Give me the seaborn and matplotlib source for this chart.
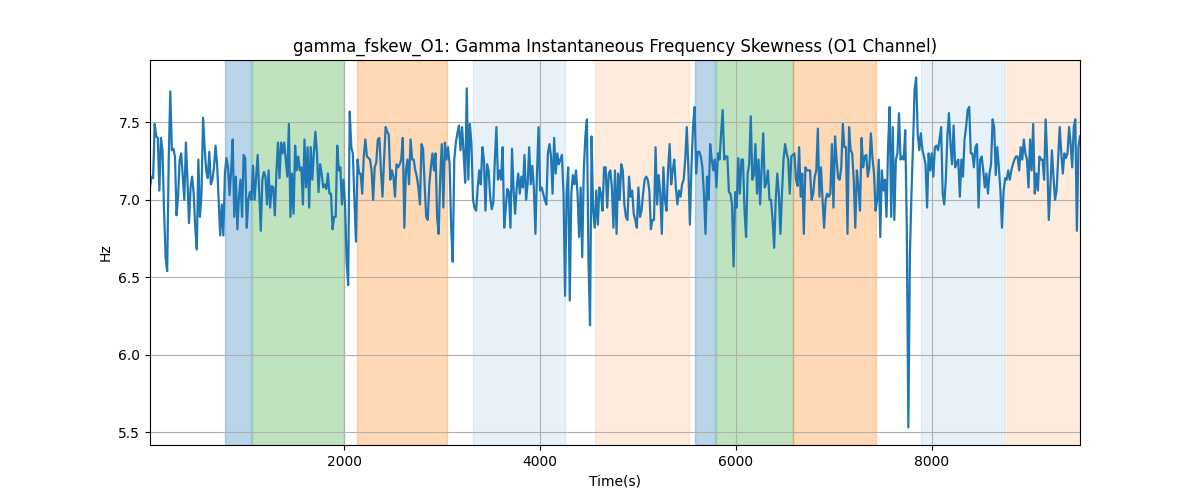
import numpy as np
import pandas as pd
import matplotlib
matplotlib.use("Agg")
import matplotlib.pyplot as plt
import seaborn as sns

# 数据: gamma 瞬时频率偏度 (O1), 按时间分段读取
hz_0000 = [7.08, 7.15, 7.14, 7.49, 7.41, 7.40, 7.06, 7.40, 7.32, 6.93,
           6.63, 6.54, 7.26, 7.70, 7.32, 7.33, 7.28, 6.90, 7.02, 7.26,
           7.30, 7.15, 7.00, 7.37, 7.13, 6.85, 7.08, 7.15, 7.04, 6.82,
           6.68, 7.26, 6.89, 7.04, 7.53, 7.34, 7.19, 7.14, 7.31, 7.10,
           7.13, 7.21, 7.35, 7.23, 7.00, 6.77, 6.97, 6.77, 7.17, 7.27]
hz_0800 = [7.21, 7.03, 7.19, 7.39, 6.89, 7.15, 6.81, 7.02, 7.13, 6.89,
           7.29, 7.27, 6.82, 7.00, 7.05, 7.00, 7.22, 7.00, 7.15, 7.29,
           7.04, 6.80, 7.13, 7.18, 7.15, 6.97, 7.19, 6.95, 7.09, 7.08,
           6.90, 7.17, 7.37, 7.14, 7.37, 7.30, 7.37, 7.26, 7.15, 7.49,
           6.89, 7.17, 6.91, 7.35, 7.19, 7.28, 7.19, 7.21, 6.97, 7.39]
hz_1600 = [7.08, 7.34, 6.95, 7.34, 7.13, 7.30, 7.44, 7.30, 7.05, 7.23,
           7.17, 7.08, 7.10, 7.07, 7.17, 7.04, 7.04, 6.81, 6.89, 6.89,
           7.35, 7.19, 7.21, 6.97, 7.13, 6.97, 6.61, 6.45, 7.57, 7.34,
           7.30, 7.00, 6.73, 7.26, 7.17, 7.17, 7.04, 7.28, 7.39, 7.28,
           7.27, 7.26, 7.19, 7.00, 7.21, 7.24, 7.39, 7.40, 7.19, 7.02]
hz_2400 = [7.26, 7.47, 7.44, 7.42, 7.13, 7.19, 7.15, 7.02, 7.23, 7.21,
           7.23, 7.26, 7.40, 6.82, 7.19, 7.26, 7.10, 7.39, 7.26, 7.26,
           7.19, 7.15, 7.08, 6.97, 7.36, 7.33, 7.10, 6.89, 6.87, 7.10,
           7.21, 7.30, 7.19, 7.30, 6.89, 6.78, 7.15, 7.36, 6.95, 7.37,
           7.26, 7.34, 7.23, 6.82, 6.60, 7.26, 7.37, 7.43, 7.48, 7.32]
hz_3200 = [7.47, 7.30, 7.11, 7.72, 7.13, 7.49, 7.36, 7.00, 6.95, 6.93,
           7.08, 7.19, 7.10, 7.34, 7.26, 6.93, 7.23, 7.19, 7.02, 6.94,
           6.98, 7.26, 7.47, 7.13, 7.19, 7.13, 7.34, 6.82, 6.95, 7.07,
           7.05, 6.82, 7.33, 7.06, 6.91, 7.08, 7.17, 7.04, 7.15, 7.08,
           7.29, 7.00, 7.10, 7.34, 7.10, 7.22, 7.08, 6.78, 7.17, 7.47]
hz_4000 = [7.06, 7.08, 7.04, 7.00, 6.97, 7.30, 7.36, 7.28, 7.04, 7.40,
           7.17, 7.30, 7.23, 7.26, 7.29, 7.04, 6.38, 7.04, 7.21, 6.35,
           7.04, 7.16, 7.10, 7.19, 7.04, 6.76, 7.08, 6.63, 7.19, 7.41,
           7.52, 6.61, 6.19, 7.41, 6.93, 6.82, 7.06, 6.84, 7.08, 7.04,
           6.93, 7.21, 7.21, 6.95, 7.17, 7.19, 7.08, 6.82, 7.19, 6.78]
hz_4800 = [7.17, 7.00, 7.23, 7.19, 6.97, 6.89, 6.87, 7.15, 7.02, 7.06,
           6.91, 6.87, 6.82, 7.08, 6.89, 6.93, 7.04, 7.13, 7.15, 7.13,
           7.06, 6.81, 6.87, 6.87, 7.34, 6.97, 7.16, 7.04, 6.78, 7.21,
           7.00, 6.93, 7.19, 7.36, 7.10, 7.19, 7.26, 7.08, 6.97, 7.06,
           7.02, 7.10, 7.13, 7.26, 7.47, 7.21, 6.84, 7.21, 7.47, 7.60]
hz_5600 = [7.17, 7.31, 7.31, 7.28, 7.21, 7.04, 6.78, 7.15, 7.00, 7.36,
           7.26, 7.19, 7.26, 7.08, 7.30, 7.26, 7.43, 7.58, 7.26, 7.28,
           7.28, 7.05, 7.04, 6.97, 6.57, 7.05, 6.95, 7.27, 7.04, 7.26,
           7.26, 6.93, 6.76, 7.17, 7.23, 7.54, 7.13, 7.16, 7.36, 7.04,
           7.26, 6.97, 7.21, 7.43, 7.08, 7.11, 7.19, 7.00, 7.00, 6.87]
hz_6400 = [6.69, 7.00, 7.17, 7.04, 6.78, 7.04, 7.26, 7.36, 7.30, 7.26,
           7.04, 7.28, 7.29, 7.30, 7.13, 7.09, 7.34, 7.02, 7.17, 6.78,
           7.21, 7.19, 7.19, 7.19, 7.00, 7.04, 7.15, 7.19, 7.46, 7.02,
           7.21, 7.00, 6.82, 7.00, 7.04, 7.02, 7.04, 7.36, 6.95, 7.41,
           7.26, 7.14, 7.13, 7.21, 7.49, 7.34, 7.34, 6.78, 7.47, 7.32]
hz_7200 = [7.30, 7.13, 6.82, 7.19, 7.08, 6.93, 7.40, 7.21, 7.28, 7.29,
           7.15, 7.21, 7.43, 7.27, 7.17, 6.93, 7.00, 7.26, 6.76, 7.19,
           7.06, 7.13, 6.89, 7.34, 7.60, 6.89, 7.47, 6.87, 7.26, 7.30,
           7.56, 7.26, 7.28, 7.26, 7.45, 6.82, 5.53, 6.65, 7.04, 7.36,
           7.71, 7.79, 7.43, 7.32, 7.43, 7.32, 7.28, 7.23, 6.95, 7.30]
hz_8000 = [7.19, 7.30, 7.15, 7.34, 7.35, 7.32, 7.39, 7.47, 7.04, 6.97,
           7.13, 7.41, 7.56, 7.36, 7.23, 7.48, 7.21, 7.24, 7.26, 7.02,
           7.26, 7.15, 7.39, 7.47, 7.58, 7.60, 7.30, 7.30, 7.21, 7.34,
           7.36, 6.95, 7.26, 7.28, 7.19, 7.08, 7.17, 7.04, 7.17, 7.23,
           7.52, 7.47, 7.16, 7.34, 7.21, 7.06, 6.82, 7.05, 7.14, 7.13]
hz_8800 = [7.19, 7.13, 7.19, 7.23, 7.26, 7.28, 7.28, 7.19, 7.34, 7.26,
           7.39, 7.30, 7.26, 7.08, 7.39, 7.19, 7.49, 7.04, 7.17, 7.06,
           7.28, 7.26, 7.26, 7.13, 7.52, 7.26, 6.87, 7.08, 7.32, 7.15,
           7.00, 7.06, 7.26, 7.47, 7.30, 7.17, 7.30, 7.27, 7.30, 7.47,
           7.36, 7.21, 7.47, 7.52, 6.80, 7.34, 7.41]

T_START, T_END = 18, 9516

# 阶段区间 (秒)
span_starts = [785, 1055, 2136, 3321, 4564, 5585, 5798, 6586, 7894, 8772]
span_ends = [1050, 2000, 3052, 4252, 5527, 5793, 6581, 7434, 8752, 9600]
span_kinds = ["b", "g", "o", "lb", "lo", "b", "g", "o", "lb", "lo"]

span_style = {
    "b": ("tab:blue", 0.3),
    "g": ("tab:green", 0.3),
    "o": ("tab:orange", 0.3),
    "lb": ("tab:blue", 0.1),
    "lo": ("tab:orange", 0.15),
}

hz = np.concatenate([hz_0000, hz_0800, hz_1600, hz_2400, hz_3200, hz_4000,
                     hz_4800, hz_5600, hz_6400, hz_7200, hz_8000, hz_8800])
t = np.linspace(T_START, T_END, len(hz))
df = pd.DataFrame({"Time(s)": t, "Hz": hz})

fig, ax = plt.subplots(figsize=(12, 5))
for s, e, k in zip(span_starts, span_ends, span_kinds):
    c, a = span_style[k]
    ax.axvspan(s, e, color=c, alpha=a)

sns.lineplot(data=df, x="Time(s)", y="Hz", ax=ax, color="tab:blue", linewidth=1.6)
ax.set_xlim(t[0], t[-1])
ax.grid(True)
ax.set_title("gamma_fskew_O1: Gamma Instantaneous Frequency Skewness (O1 Channel)")
ax.set_xlabel("Time(s)")
ax.set_ylabel("Hz")

fig.savefig("out.png", dpi=100)
